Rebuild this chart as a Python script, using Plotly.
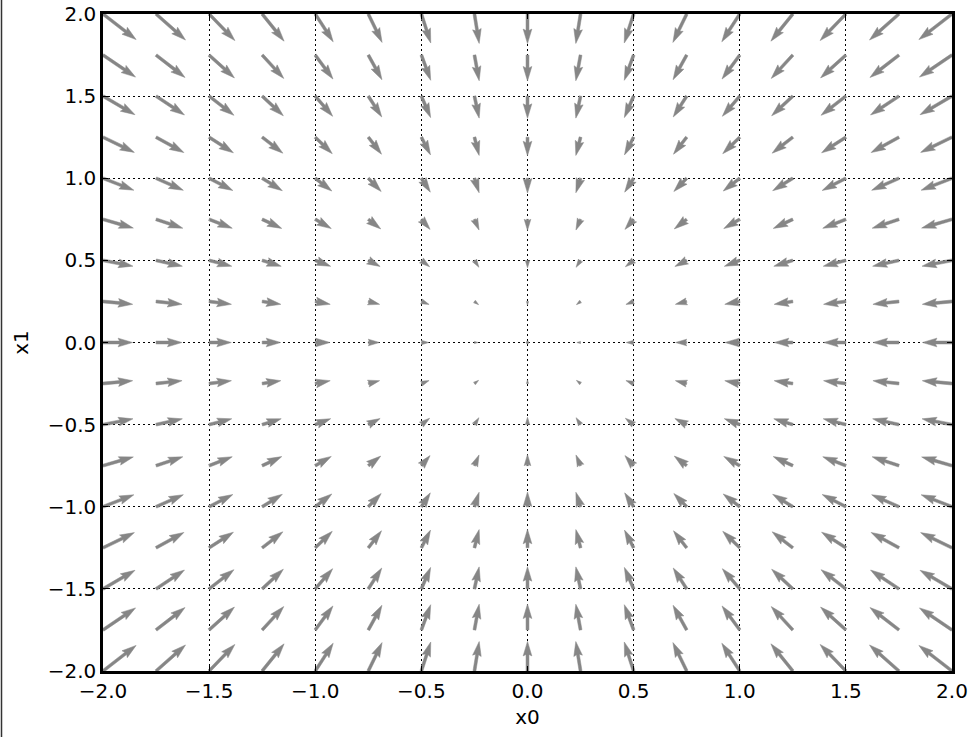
import math
import plotly.graph_objects as go

# ---- data (grid points and negative gradient components) ----
x0_grid = [-2.0, -1.75, -1.5, -1.25, -1.0, -0.75, -0.5, -0.25, 0.0,
           0.25, 0.5, 0.75, 1.0, 1.25, 1.5, 1.75, 2.0, 2.25]
x1_grid = [-2.0, -1.75, -1.5, -1.25, -1.0, -0.75, -0.5, -0.25, 0.0,
           0.25, 0.5, 0.75, 1.0, 1.25, 1.5, 1.75, 2.0, 2.25]
neg_grad_x0 = [4.0, 3.5, 3.0, 2.5, 2.0, 1.5, 1.0, 0.5, 0.0,
               -0.5, -1.0, -1.5, -2.0, -2.5, -3.0, -3.5, -4.0, -4.5]
neg_grad_x1 = [4.0, 3.5, 3.0, 2.5, 2.0, 1.5, 1.0, 0.5, 0.0,
               -0.5, -1.0, -1.5, -2.0, -2.5, -3.0, -3.5, -4.0, -4.5]
tick_vals = [-2.0, -1.5, -1.0, -0.5, 0.0, 0.5, 1.0, 1.5, 2.0]
tick_text = ["\u22122.0", "\u22121.5", "\u22121.0", "\u22120.5", "0.0", "0.5", "1.0", "1.5", "2.0"]

# ---- layout geometry ----
W, H = 978, 737
ML, MR, MT, MB = 103, 26, 14, 66
PW, PH = W - ML - MR, H - MT - MB
XR, YR = (-2.0, 2.0), (-2.0, 2.0)
sx = PW / (XR[1] - XR[0])   # px per data unit (x)
sy = PH / (YR[1] - YR[0])   # px per data unit (y)

# quiver style (pixel units)
px_per_unit = 7.4
w = 2.9
head_len, head_axis_len, head_w = 5 * w, 4.5 * w, 3 * w
minsh = head_len

xs, ys = [], []
for j, yv in enumerate(x1_grid):
    for i, xv in enumerate(x0_grid):
        u, v = neg_grad_x0[i], neg_grad_x1[j]
        ang = math.atan2(v * sy, u * sx)
        L = math.hypot(u, v) * px_per_unit
        if L < w:
            pts = [(0.5 * w * math.cos(t * math.pi / 3), 0.5 * w * math.sin(t * math.pi / 3)) for t in range(7)]
        elif L < minsh:
            s = L / minsh
            base = [(0, 0.5 * w), (minsh - head_axis_len, 0.5 * w), (minsh - head_len, head_w / 2),
                    (minsh, 0), (minsh - head_len, -head_w / 2), (minsh - head_axis_len, -0.5 * w),
                    (0, -0.5 * w), (0, 0.5 * w)]
            pts = [(p[0] * s, p[1] * s) for p in base]
        else:
            pts = [(0, 0.5 * w), (L - head_axis_len, 0.5 * w), (L - head_len, head_w / 2),
                   (L, 0), (L - head_len, -head_w / 2), (L - head_axis_len, -0.5 * w),
                   (0, -0.5 * w), (0, 0.5 * w)]
        c, sn = math.cos(ang), math.sin(ang)
        for px, py in pts:
            xs.append(xv + (px * c - py * sn) / sx)
            ys.append(yv + (px * sn + py * c) / sy)
        xs.append(None)
        ys.append(None)

fig = go.Figure()
fig.add_trace(go.Scatter(
    x=xs, y=ys, mode="lines", fill="toself",
    fillcolor="#868686", line=dict(color="#868686", width=0.5),
    hoverinfo="skip", showlegend=False,
))

font = dict(family="DejaVu Sans", size=20, color="black")
axis_common = dict(
    tickvals=tick_vals, ticktext=tick_text, ticks="inside", ticklen=5, tickwidth=1,
    tickcolor="black", showline=True, linewidth=2.5, linecolor="black", mirror="ticks",
    showgrid=True, gridcolor="black", gridwidth=1, griddash="2px,3px",
    zeroline=False, tickfont=font, fixedrange=True, automargin=False,
)
fig.update_xaxes(range=list(XR), title=dict(text="x0", font=font, standoff=9), **axis_common)
fig.update_yaxes(range=list(YR), title=dict(text="x1", font=font, standoff=14), **axis_common)

fig.add_shape(type="line", xref="paper", yref="paper",
              x0=(1.5 - ML) / PW, x1=(1.5 - ML) / PW,
              y0=(H - MB - 0) / PH, y1=(H - MB - H) / PH,
              line=dict(color="#333333", width=1.5))

fig.update_layout(
    width=W, height=H, autosize=False,
    margin=dict(l=ML, r=MR, t=MT, b=MB, pad=0, autoexpand=False),
    plot_bgcolor="white", paper_bgcolor="white",
    font=font,
)
fig.write_html("out.html", config={"displayModeBar": False},
               post_script="document.body.style.margin='0px';document.body.style.overflow='hidden';")
